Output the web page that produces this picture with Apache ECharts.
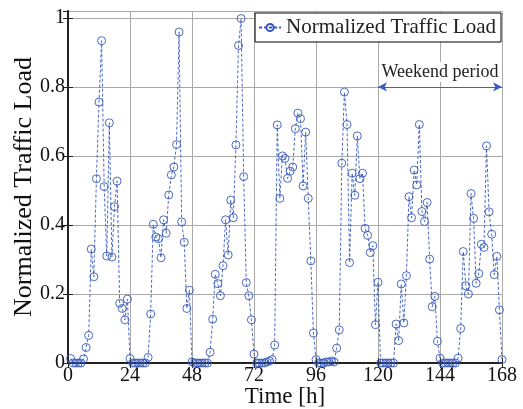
<!DOCTYPE html>
<html>
<head>
<meta charset="utf-8">
<script src="https://cdn.jsdelivr.net/npm/echarts@6/dist/echarts.min.js"></script>
<style>html,body{margin:0;padding:0;background:#fff}#c{width:523px;height:409px}</style>
</head>
<body>
<div id="c"></div>
<script>
const hours = [1,2,3,4,5,6,7,8,9,10,11,12,13,14,15,16,17,18,19,20,21,22,23,24,
25,26,27,28,29,30,31,32,33,34,35,36,37,38,39,40,41,42,43,44,45,46,47,48,
49,50,51,52,53,54,55,56,57,58,59,60,61,62,63,64,65,66,67,68,69,70,71,72,
73,74,75,76,77,78,79,80,81,82,83,84,85,86,87,88,89,90,91,92,93,94,95,96,
97,98,99,100,101,102,103,104,105,106,107,108,109,110,111,112,113,114,115,116,117,118,119,120,
121,122,123,124,125,126,127,128,129,130,131,132,133,134,135,136,137,138,139,140,141,142,143,144,
145,146,147,148,149,150,151,152,153,154,155,156,157,158,159,160,161,162,163,164,165,166,167,168];
const load = [
0.013,0,0,0,0,0.012,0.045,0.08,0.33,0.25,0.534,0.756,0.934,0.511,0.31,0.696,0.307,0.453,0.527,0.173,0.158,0.125,0.185,0.013,
0,0,0,0,0,0,0.016,0.142,0.402,0.365,0.36,0.305,0.415,0.376,0.487,0.545,0.568,0.633,0.959,0.409,0.35,0.158,0.211,0.003,
0,0,0,0,0,0,0.031,0.127,0.257,0.23,0.195,0.282,0.415,0.313,0.472,0.421,0.632,0.92,0.998,0.54,0.233,0.195,0.125,0.026,
0,0,0,0,0.003,0.006,0.01,0.052,0.69,0.477,0.6,0.593,0.535,0.556,0.568,0.679,0.724,0.708,0.513,0.669,0.477,0.296,0.087,0.01,
0,0,0,0.003,0.003,0.006,0.003,0.043,0.096,0.579,0.785,0.691,0.291,0.55,0.486,0.658,0.534,0.55,0.39,0.37,0.32,0.34,0.111,0.234,
0,0,0,0,0,0,0.113,0.065,0.229,0.116,0.253,0.482,0.421,0.559,0.516,0.691,0.439,0.41,0.465,0.301,0.163,0.193,0.063,0.014,
0,0,0,0,0,0,0.014,0.1,0.323,0.224,0.2,0.491,0.419,0.231,0.259,0.344,0.335,0.629,0.438,0.373,0.256,0.309,0.154,0.01];
const xTicks = [0,24,48,72,96,120,144,168];
const yTicks = [0,0.2,0.4,0.6,0.8,1];
const seriesName = 'Normalized Traffic Load';
const weekendStart = 120, weekendEnd = 168, weekendLevel = 0.8;
const weekendLabel = 'Weekend period';

const FONT = '"Liberation Serif","Times New Roman",serif';
const BLUE = '#3558c0';
const chart = echarts.init(document.getElementById('c'), null, {renderer:'canvas'});
const yFmt = v => { const r = Math.round(v*10)/10; return yTicks.some(t=>Math.abs(t-v)<1e-9) ? String(r) : ''; };
chart.setOption({
  animation:false,
  backgroundColor:'#fff',
  grid:{left:68,right:21,top:11,bottom:46,containLabel:false,outerBoundsMode:'none'},
  legend:{
    data:[seriesName], right:22, top:13, orient:'horizontal',
    backgroundColor:'#fff', borderColor:'#000', borderWidth:1, borderRadius:0,
    padding:[4,5,4,3], itemWidth:22, itemHeight:9, itemGap:4,
    textStyle:{fontFamily:FONT,fontSize:21,color:'#222'}
  },
  xAxis:[{
    type:'value', min:0, max:168, interval:24,
    name:'Time [h]', nameLocation:'middle', nameGap:22, nameMoveOverlap:false,
    nameTextStyle:{fontFamily:FONT,fontSize:23,color:'#111',verticalAlign:'top'},
    axisLine:{show:true,lineStyle:{color:'#222',width:2}},
    axisTick:{show:true,inside:true,length:5,lineStyle:{color:'#222'}},
    axisLabel:{fontFamily:FONT,fontSize:20,color:'#111',margin:3,showMinLabel:true,showMaxLabel:true},
    splitLine:{show:true,lineStyle:{color:'#aaaaaa',width:1}}
  },{
    type:'value', min:0, max:168, interval:24, position:'top',
    axisLine:{show:true,lineStyle:{color:'#222',width:1}},
    axisTick:{show:true,inside:true,length:5,lineStyle:{color:'#222'}},
    axisLabel:{show:false}, splitLine:{show:false}
  }],
  yAxis:[{
    type:'value', min:0, max:1.02, interval:0.2,
    name:'Normalized Traffic Load', nameLocation:'middle', nameGap:31, nameRotate:90, nameMoveOverlap:false,
    nameTextStyle:{fontFamily:FONT,fontSize:26,color:'#111'},
    axisLine:{show:true,lineStyle:{color:'#222',width:2}},
    axisTick:{show:true,inside:true,length:5,lineStyle:{color:'#222'}},
    axisLabel:{fontFamily:FONT,fontSize:20,color:'#111',margin:3,formatter:yFmt,showMaxLabel:false},
    splitLine:{show:true,lineStyle:{color:'#aaaaaa',width:1}}
  },{
    type:'value', min:0, max:1.02, interval:0.2, position:'right',
    axisLine:{show:true,lineStyle:{color:'#222',width:1}},
    axisTick:{show:true,inside:true,length:5,lineStyle:{color:'#222'}},
    axisLabel:{show:false}, splitLine:{show:false}
  }],
  series:[{
    name:seriesName, type:'line', xAxisIndex:0, yAxisIndex:0,
    data: hours.map((h,i)=>[h, load[i]]),
    symbol:'circle', symbolSize:8, showAllSymbol:true,
    itemStyle:{color:'rgba(255,255,255,0)', borderColor:BLUE, borderWidth:0.9},
    lineStyle:{color:BLUE, width:0.9, type:[3,2]},
    emphasis:{disabled:true},
    markLine:{
      silent:true, symbol:['arrow','arrow'], symbolSize:[7,9],
      lineStyle:{color:'#3a5fc4',width:1.2,type:'solid'},
      label:{show:true, position:'middle', formatter:weekendLabel, distance:5,
        fontFamily:FONT, fontSize:18, color:'#222', backgroundColor:'#fff', padding:[1,2]},
      data:[[{coord:[weekendStart,weekendLevel]},{coord:[weekendEnd,weekendLevel]}]]
    }
  }]
});
</script>
</body>
</html>
